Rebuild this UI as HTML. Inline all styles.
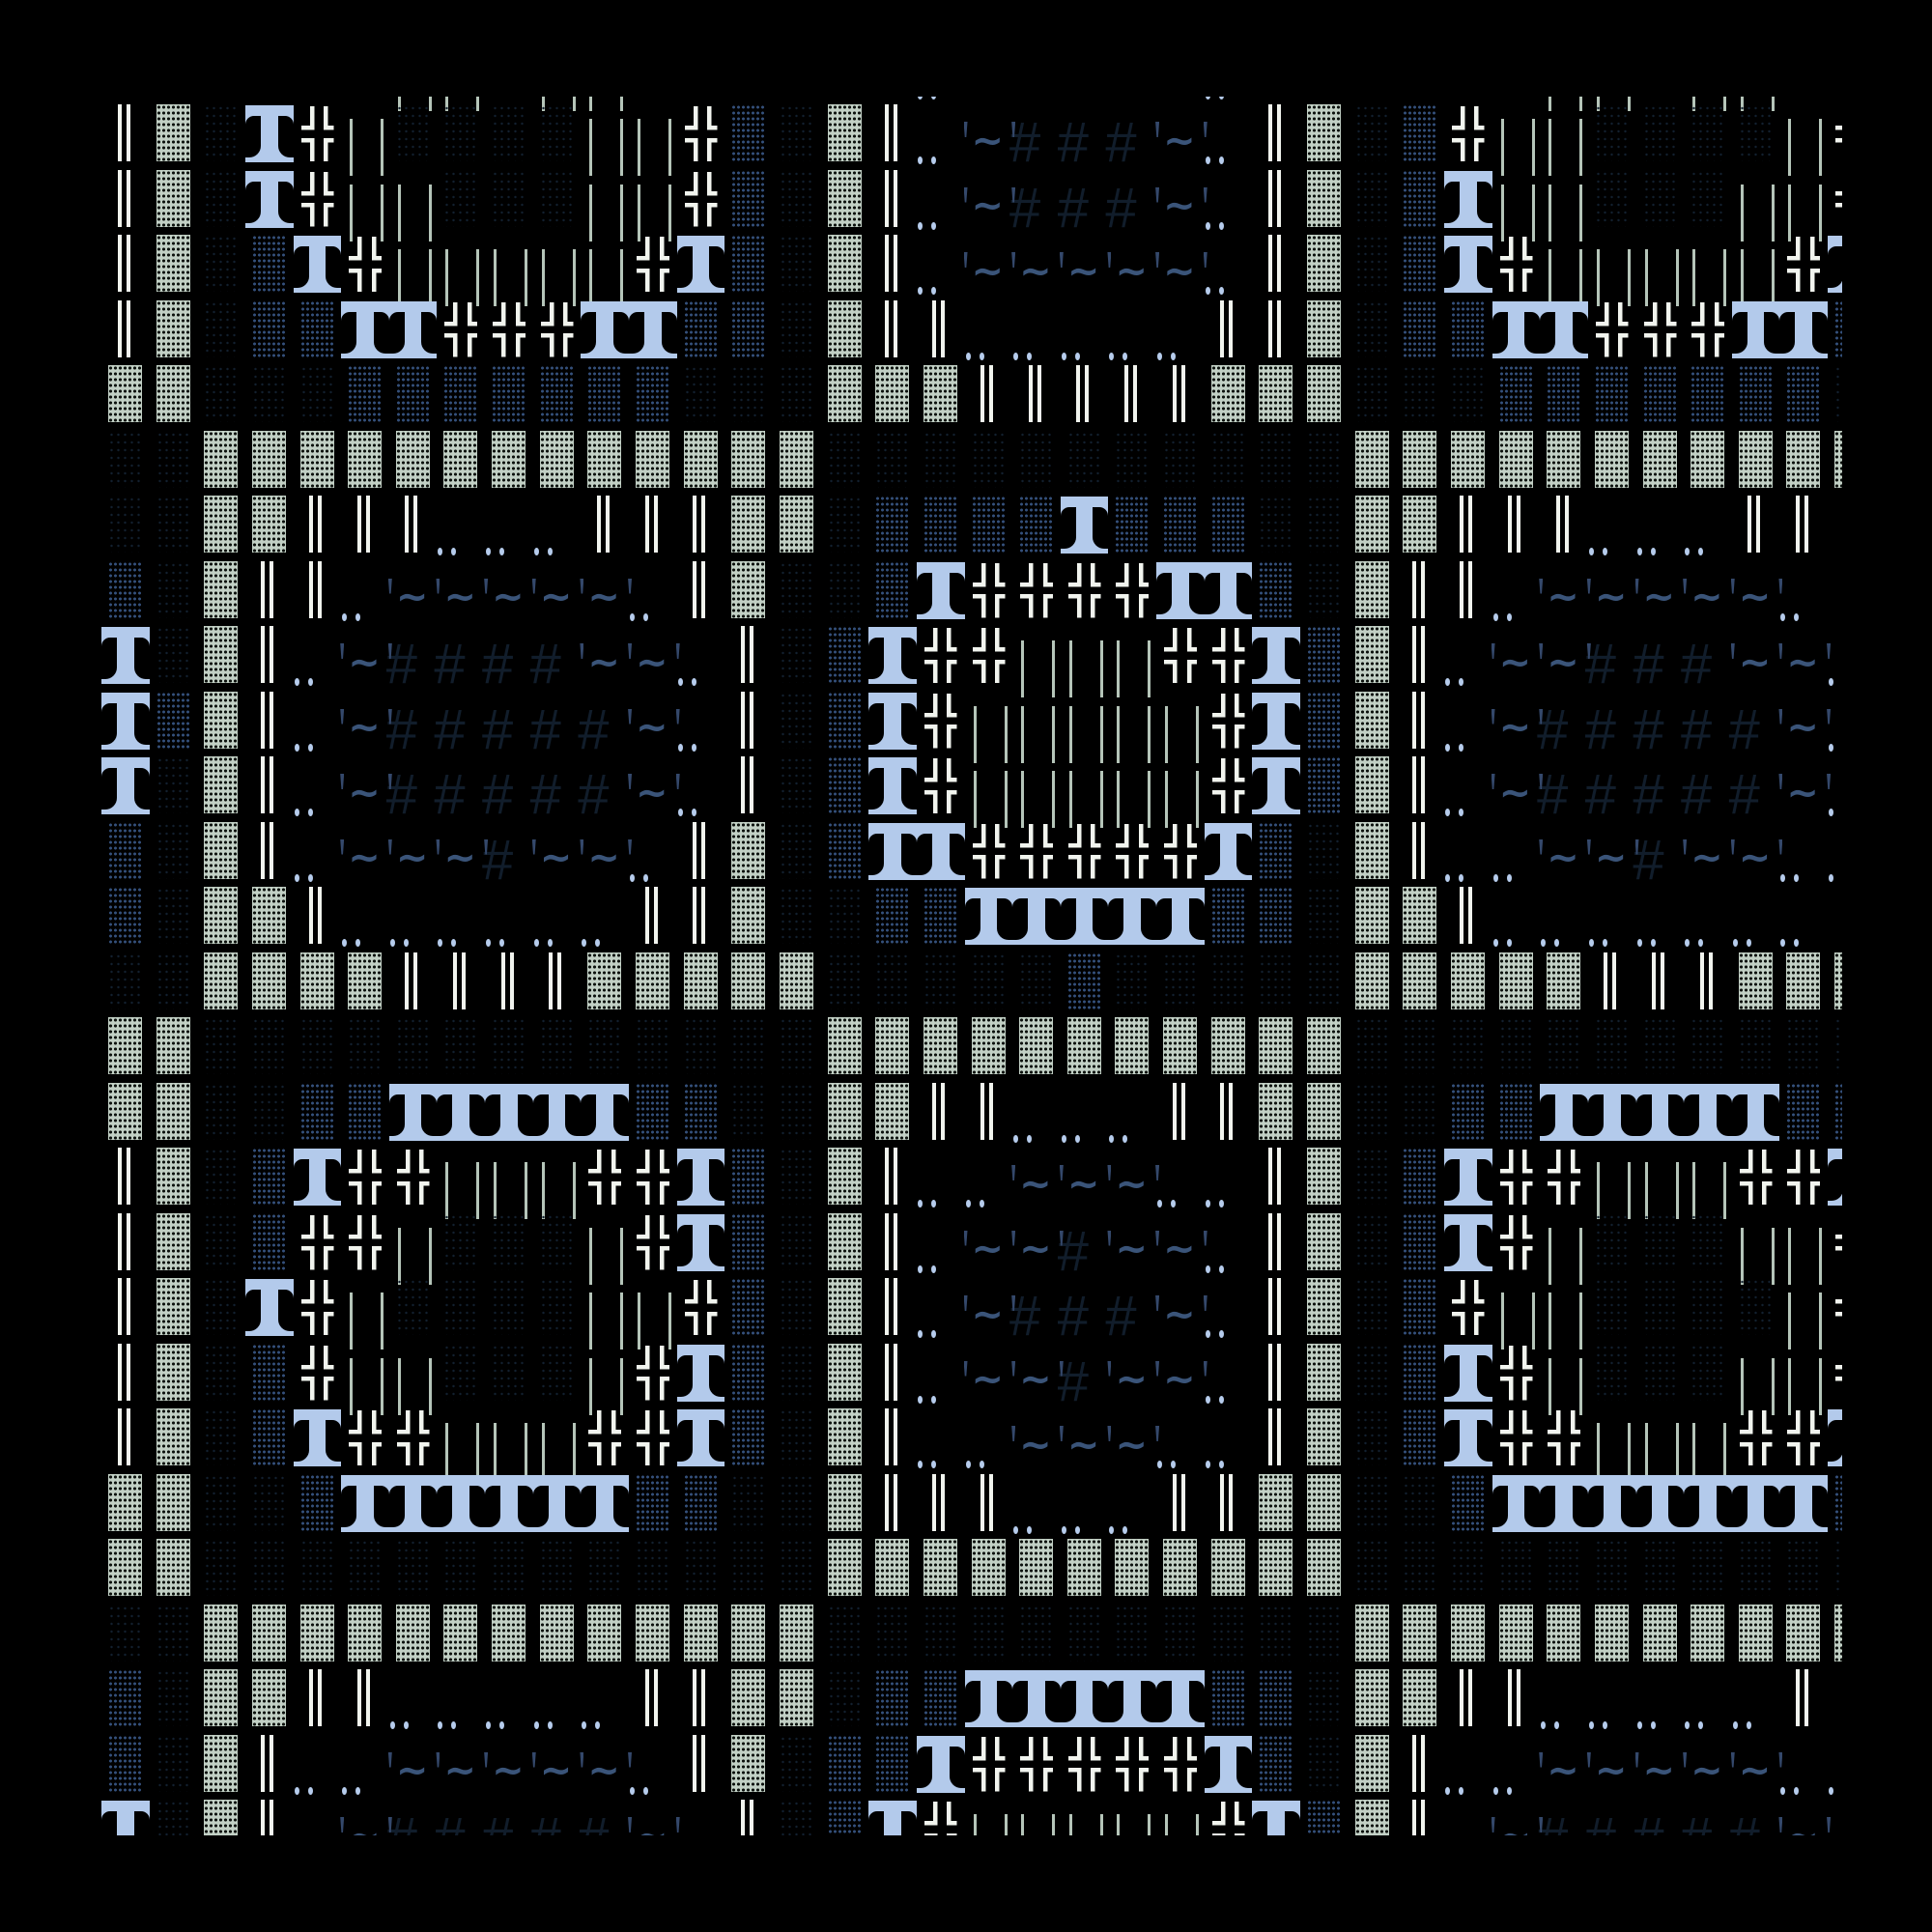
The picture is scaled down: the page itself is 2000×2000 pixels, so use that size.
<!DOCTYPE html>
<html><head><meta charset="utf-8"><style>
html,body{margin:0;padding:0;background:#000}
body{width:2000px;height:2000px;overflow:hidden;position:relative}
#c{position:absolute;left:100px;top:100px;width:1807px;height:1800px;overflow:hidden}
#g{position:absolute;left:5px;top:-63.5px;display:grid;grid-template-columns:repeat(37,49.65px);grid-auto-rows:67.5px}
#g i{position:relative;display:block;font-style:normal}
#g i::before,#g i::after{content:"";position:absolute}
#g .S::before{left:7px;top:4px;width:35px;height:59px;background:#c2d0c5 radial-gradient(circle,#0c110d 0 1.4px,transparent 1.8px) 0 0/5px 6px}
#g .d::before{left:7px;top:4px;width:35px;height:59px;background:radial-gradient(circle,#12202f 0 1px,transparent 1.4px) 0 0/7px 8px}
#g .b::before{left:7px;top:4px;width:35px;height:59px;background:radial-gradient(circle,#34507b 0 1.3px,transparent 1.7px) 0 0/5px 6px}
#g .D::before{left:16.5px;top:4px;width:5px;height:59px;border-left:4.5px solid #f1f4ee;border-right:4.5px solid #f1f4ee}
#g .X::before{left:8px;top:6px;width:34px;height:57px;
background-image:linear-gradient(#f1f4ee,#f1f4ee),linear-gradient(#f1f4ee,#f1f4ee),linear-gradient(#f1f4ee,#f1f4ee),linear-gradient(#f1f4ee,#f1f4ee),linear-gradient(#f1f4ee,#f1f4ee),linear-gradient(#f1f4ee,#f1f4ee),linear-gradient(#f1f4ee,#f1f4ee),linear-gradient(#f1f4ee,#f1f4ee);
background-repeat:no-repeat;
background-position:9px 0,0 20px,23.5px 0,23.5px 20px,9px 32.5px,0 32.5px,23.5px 32.5px,23.5px 32.5px;
background-size:4.5px 24.5px,13.5px 4.5px,4.5px 24.5px,10.5px 4.5px,4.5px 24.5px,13.5px 4.5px,4.5px 24.5px,10.5px 4.5px}
#g .T{background:linear-gradient(#b3caeb,#b3caeb) no-repeat 0 5px/100% 59px}
#g .T::before{left:0;top:16px;width:16px;height:43px;background:#000;border-radius:9px 0 12px 0}
#g .T::after{left:33.65px;top:16px;width:16px;height:43px;background:#000;border-radius:0 9px 0 12px}
#g .L::before{left:9px;top:19px;width:3px;height:59px;background:#b5c5b9;box-shadow:32px 0 0 #b5c5b9}
#g .o::before,#g .O::before{left:1px;top:58px;width:5px;height:8px;border-radius:50%;background:#b6ccec;box-shadow:14px 0 0 #b6ccec}
#g .t::before,#g .O::after,#g .H::after{left:-1px;top:22px;width:4px;height:16px;background:#34486b;clip-path:polygon(0 0,100% 0,70% 100%,30% 100%)}
#g .t::after{content:"~";left:7px;top:21.7px;font:bold 40px/40px "DejaVu Sans",sans-serif;color:#3a5479}
#g .h::before,#g .H::before{content:"#";left:-4px;top:15px;font:italic 58px/58px "Liberation Sans",sans-serif;color:#111d2b}
</style></head><body><div id="c"><div id="g">
<i></i><i></i><i></i><i></i><i></i><i></i><i class=L></i><i class=L></i><i></i><i class=L></i><i class=L></i><i></i><i></i><i></i><i></i><i></i><i></i><i class=o></i><i></i><i></i><i></i><i></i><i></i><i class=o></i><i></i><i></i><i></i><i></i><i></i><i></i><i class=L></i><i class=L></i><i></i><i class=L></i><i class=L></i><i></i><i></i>
<i class=D></i><i class=S></i><i class=d></i><i class=T></i><i class=X></i><i class=L></i><i class=d></i><i class=d></i><i class=d></i><i class=d></i><i class=L></i><i class=L></i><i class=X></i><i class=b></i><i class=d></i><i class=S></i><i class=D></i><i class=o></i><i class=t></i><i class=H></i><i class=h></i><i class=h></i><i class=t></i><i class=O></i><i class=D></i><i class=S></i><i class=d></i><i class=b></i><i class=X></i><i class=L></i><i class=L></i><i class=d></i><i class=d></i><i class=d></i><i class=d></i><i class=L></i><i class=X></i>
<i class=D></i><i class=S></i><i class=d></i><i class=T></i><i class=X></i><i class=L></i><i class=L></i><i class=d></i><i class=d></i><i class=d></i><i class=L></i><i class=L></i><i class=X></i><i class=b></i><i class=d></i><i class=S></i><i class=D></i><i class=o></i><i class=t></i><i class=H></i><i class=h></i><i class=h></i><i class=t></i><i class=O></i><i class=D></i><i class=S></i><i class=d></i><i class=b></i><i class=T></i><i class=L></i><i class=L></i><i class=d></i><i class=d></i><i class=d></i><i class=L></i><i class=L></i><i class=X></i>
<i class=D></i><i class=S></i><i class=d></i><i class=b></i><i class=T></i><i class=X></i><i class=L></i><i class=L></i><i class=L></i><i class=L></i><i class=L></i><i class=X></i><i class=T></i><i class=b></i><i class=d></i><i class=S></i><i class=D></i><i class=o></i><i class=t></i><i class=t></i><i class=t></i><i class=t></i><i class=t></i><i class=O></i><i class=D></i><i class=S></i><i class=d></i><i class=b></i><i class=T></i><i class=X></i><i class=L></i><i class=L></i><i class=L></i><i class=L></i><i class=L></i><i class=X></i><i class=T></i>
<i class=D></i><i class=S></i><i class=d></i><i class=b></i><i class=b></i><i class=T></i><i class=T></i><i class=X></i><i class=X></i><i class=X></i><i class=T></i><i class=T></i><i class=b></i><i class=b></i><i class=d></i><i class=S></i><i class=D></i><i class=D></i><i class=o></i><i class=o></i><i class=o></i><i class=o></i><i class=o></i><i class=D></i><i class=D></i><i class=S></i><i class=d></i><i class=b></i><i class=b></i><i class=T></i><i class=T></i><i class=X></i><i class=X></i><i class=X></i><i class=T></i><i class=T></i><i class=b></i>
<i class=S></i><i class=S></i><i class=d></i><i class=d></i><i class=d></i><i class=b></i><i class=b></i><i class=b></i><i class=b></i><i class=b></i><i class=b></i><i class=b></i><i class=d></i><i class=d></i><i class=d></i><i class=S></i><i class=S></i><i class=S></i><i class=D></i><i class=D></i><i class=D></i><i class=D></i><i class=D></i><i class=S></i><i class=S></i><i class=S></i><i class=d></i><i class=d></i><i class=d></i><i class=b></i><i class=b></i><i class=b></i><i class=b></i><i class=b></i><i class=b></i><i class=b></i><i class=d></i>
<i class=d></i><i class=d></i><i class=S></i><i class=S></i><i class=S></i><i class=S></i><i class=S></i><i class=S></i><i class=S></i><i class=S></i><i class=S></i><i class=S></i><i class=S></i><i class=S></i><i class=S></i><i class=d></i><i class=d></i><i class=d></i><i class=d></i><i class=d></i><i class=d></i><i class=d></i><i class=d></i><i class=d></i><i class=d></i><i class=d></i><i class=S></i><i class=S></i><i class=S></i><i class=S></i><i class=S></i><i class=S></i><i class=S></i><i class=S></i><i class=S></i><i class=S></i><i class=S></i>
<i class=d></i><i class=d></i><i class=S></i><i class=S></i><i class=D></i><i class=D></i><i class=D></i><i class=o></i><i class=o></i><i class=o></i><i class=D></i><i class=D></i><i class=D></i><i class=S></i><i class=S></i><i class=d></i><i class=b></i><i class=b></i><i class=b></i><i class=b></i><i class=T></i><i class=b></i><i class=b></i><i class=b></i><i class=d></i><i class=d></i><i class=S></i><i class=S></i><i class=D></i><i class=D></i><i class=D></i><i class=o></i><i class=o></i><i class=o></i><i class=D></i><i class=D></i><i></i>
<i class=b></i><i class=d></i><i class=S></i><i class=D></i><i class=D></i><i class=o></i><i class=t></i><i class=t></i><i class=t></i><i class=t></i><i class=t></i><i class=O></i><i class=D></i><i class=S></i><i class=d></i><i class=d></i><i class=b></i><i class=T></i><i class=X></i><i class=X></i><i class=X></i><i class=X></i><i class=T></i><i class=T></i><i class=b></i><i class=d></i><i class=S></i><i class=D></i><i class=D></i><i class=o></i><i class=t></i><i class=t></i><i class=t></i><i class=t></i><i class=t></i><i class=O></i><i></i>
<i class=T></i><i class=d></i><i class=S></i><i class=D></i><i class=o></i><i class=t></i><i class=H></i><i class=h></i><i class=h></i><i class=h></i><i class=t></i><i class=t></i><i class=O></i><i class=D></i><i class=d></i><i class=b></i><i class=T></i><i class=X></i><i class=X></i><i class=L></i><i class=L></i><i class=L></i><i class=X></i><i class=X></i><i class=T></i><i class=b></i><i class=S></i><i class=D></i><i class=o></i><i class=t></i><i class=t></i><i class=H></i><i class=h></i><i class=h></i><i class=t></i><i class=t></i><i class=O></i>
<i class=T></i><i class=b></i><i class=S></i><i class=D></i><i class=o></i><i class=t></i><i class=H></i><i class=h></i><i class=h></i><i class=h></i><i class=h></i><i class=t></i><i class=O></i><i class=D></i><i class=d></i><i class=b></i><i class=T></i><i class=X></i><i class=L></i><i class=L></i><i class=L></i><i class=L></i><i class=L></i><i class=X></i><i class=T></i><i class=b></i><i class=S></i><i class=D></i><i class=o></i><i class=t></i><i class=H></i><i class=h></i><i class=h></i><i class=h></i><i class=h></i><i class=t></i><i class=O></i>
<i class=T></i><i class=d></i><i class=S></i><i class=D></i><i class=o></i><i class=t></i><i class=H></i><i class=h></i><i class=h></i><i class=h></i><i class=h></i><i class=t></i><i class=O></i><i class=D></i><i class=d></i><i class=b></i><i class=T></i><i class=X></i><i class=L></i><i class=L></i><i class=L></i><i class=L></i><i class=L></i><i class=X></i><i class=T></i><i class=b></i><i class=S></i><i class=D></i><i class=o></i><i class=t></i><i class=H></i><i class=h></i><i class=h></i><i class=h></i><i class=h></i><i class=t></i><i class=O></i>
<i class=b></i><i class=d></i><i class=S></i><i class=D></i><i class=o></i><i class=t></i><i class=t></i><i class=t></i><i class=H></i><i class=t></i><i class=t></i><i class=O></i><i class=D></i><i class=S></i><i class=d></i><i class=b></i><i class=T></i><i class=T></i><i class=X></i><i class=X></i><i class=X></i><i class=X></i><i class=X></i><i class=T></i><i class=b></i><i class=d></i><i class=S></i><i class=D></i><i class=o></i><i class=o></i><i class=t></i><i class=t></i><i class=H></i><i class=t></i><i class=t></i><i class=O></i><i class=o></i>
<i class=b></i><i class=d></i><i class=S></i><i class=S></i><i class=D></i><i class=o></i><i class=o></i><i class=o></i><i class=o></i><i class=o></i><i class=o></i><i class=D></i><i class=D></i><i class=S></i><i class=d></i><i class=d></i><i class=b></i><i class=b></i><i class=T></i><i class=T></i><i class=T></i><i class=T></i><i class=T></i><i class=b></i><i class=b></i><i class=d></i><i class=S></i><i class=S></i><i class=D></i><i class=o></i><i class=o></i><i class=o></i><i class=o></i><i class=o></i><i class=o></i><i class=o></i><i></i>
<i class=d></i><i class=d></i><i class=S></i><i class=S></i><i class=S></i><i class=S></i><i class=D></i><i class=D></i><i class=D></i><i class=D></i><i class=S></i><i class=S></i><i class=S></i><i class=S></i><i class=S></i><i class=d></i><i class=d></i><i class=d></i><i class=d></i><i class=d></i><i class=b></i><i class=d></i><i class=d></i><i class=d></i><i class=d></i><i class=d></i><i class=S></i><i class=S></i><i class=S></i><i class=S></i><i class=S></i><i class=D></i><i class=D></i><i class=D></i><i class=S></i><i class=S></i><i class=S></i>
<i class=S></i><i class=S></i><i class=d></i><i class=d></i><i class=d></i><i class=d></i><i class=d></i><i class=d></i><i class=d></i><i class=d></i><i class=d></i><i class=d></i><i class=d></i><i class=d></i><i class=d></i><i class=S></i><i class=S></i><i class=S></i><i class=S></i><i class=S></i><i class=S></i><i class=S></i><i class=S></i><i class=S></i><i class=S></i><i class=S></i><i class=d></i><i class=d></i><i class=d></i><i class=d></i><i class=d></i><i class=d></i><i class=d></i><i class=d></i><i class=d></i><i class=d></i><i class=d></i>
<i class=S></i><i class=S></i><i class=d></i><i class=d></i><i class=b></i><i class=b></i><i class=T></i><i class=T></i><i class=T></i><i class=T></i><i class=T></i><i class=b></i><i class=b></i><i class=d></i><i class=d></i><i class=S></i><i class=S></i><i class=D></i><i class=D></i><i class=o></i><i class=o></i><i class=o></i><i class=D></i><i class=D></i><i class=S></i><i class=S></i><i class=d></i><i class=d></i><i class=b></i><i class=b></i><i class=T></i><i class=T></i><i class=T></i><i class=T></i><i class=T></i><i class=b></i><i class=b></i>
<i class=D></i><i class=S></i><i class=d></i><i class=b></i><i class=T></i><i class=X></i><i class=X></i><i class=L></i><i class=L></i><i class=L></i><i class=X></i><i class=X></i><i class=T></i><i class=b></i><i class=d></i><i class=S></i><i class=D></i><i class=o></i><i class=o></i><i class=t></i><i class=t></i><i class=t></i><i class=O></i><i class=o></i><i class=D></i><i class=S></i><i class=d></i><i class=b></i><i class=T></i><i class=X></i><i class=X></i><i class=L></i><i class=L></i><i class=L></i><i class=X></i><i class=X></i><i class=T></i>
<i class=D></i><i class=S></i><i class=d></i><i class=b></i><i class=X></i><i class=X></i><i class=L></i><i class=d></i><i class=d></i><i class=d></i><i class=L></i><i class=X></i><i class=T></i><i class=b></i><i class=d></i><i class=S></i><i class=D></i><i class=o></i><i class=t></i><i class=t></i><i class=H></i><i class=t></i><i class=t></i><i class=O></i><i class=D></i><i class=S></i><i class=d></i><i class=b></i><i class=T></i><i class=X></i><i class=L></i><i class=d></i><i class=d></i><i class=d></i><i class=L></i><i class=L></i><i class=X></i>
<i class=D></i><i class=S></i><i class=d></i><i class=T></i><i class=X></i><i class=L></i><i class=d></i><i class=d></i><i class=d></i><i class=d></i><i class=L></i><i class=L></i><i class=X></i><i class=b></i><i class=d></i><i class=S></i><i class=D></i><i class=o></i><i class=t></i><i class=H></i><i class=h></i><i class=h></i><i class=t></i><i class=O></i><i class=D></i><i class=S></i><i class=d></i><i class=b></i><i class=X></i><i class=L></i><i class=L></i><i class=d></i><i class=d></i><i class=d></i><i class=d></i><i class=L></i><i class=X></i>
<i class=D></i><i class=S></i><i class=d></i><i class=b></i><i class=X></i><i class=L></i><i class=L></i><i class=d></i><i class=d></i><i class=d></i><i class=L></i><i class=X></i><i class=T></i><i class=b></i><i class=d></i><i class=S></i><i class=D></i><i class=o></i><i class=t></i><i class=t></i><i class=H></i><i class=t></i><i class=t></i><i class=O></i><i class=D></i><i class=S></i><i class=d></i><i class=b></i><i class=T></i><i class=X></i><i class=L></i><i class=d></i><i class=d></i><i class=d></i><i class=L></i><i class=L></i><i class=X></i>
<i class=D></i><i class=S></i><i class=d></i><i class=b></i><i class=T></i><i class=X></i><i class=X></i><i class=L></i><i class=L></i><i class=L></i><i class=X></i><i class=X></i><i class=T></i><i class=b></i><i class=d></i><i class=S></i><i class=D></i><i class=o></i><i class=o></i><i class=t></i><i class=t></i><i class=t></i><i class=O></i><i class=o></i><i class=D></i><i class=S></i><i class=d></i><i class=b></i><i class=T></i><i class=X></i><i class=X></i><i class=L></i><i class=L></i><i class=L></i><i class=X></i><i class=X></i><i class=T></i>
<i class=S></i><i class=S></i><i class=d></i><i class=d></i><i class=b></i><i class=T></i><i class=T></i><i class=T></i><i class=T></i><i class=T></i><i class=T></i><i class=b></i><i class=b></i><i class=d></i><i class=d></i><i class=S></i><i class=D></i><i class=D></i><i class=D></i><i class=o></i><i class=o></i><i class=o></i><i class=D></i><i class=D></i><i class=S></i><i class=S></i><i class=d></i><i class=d></i><i class=b></i><i class=T></i><i class=T></i><i class=T></i><i class=T></i><i class=T></i><i class=T></i><i class=T></i><i class=b></i>
<i class=S></i><i class=S></i><i class=d></i><i class=d></i><i class=d></i><i class=d></i><i class=d></i><i class=d></i><i class=d></i><i class=d></i><i class=d></i><i class=d></i><i class=d></i><i class=d></i><i class=d></i><i class=S></i><i class=S></i><i class=S></i><i class=S></i><i class=S></i><i class=S></i><i class=S></i><i class=S></i><i class=S></i><i class=S></i><i class=S></i><i class=d></i><i class=d></i><i class=d></i><i class=d></i><i class=d></i><i class=d></i><i class=d></i><i class=d></i><i class=d></i><i class=d></i><i class=d></i>
<i class=d></i><i class=d></i><i class=S></i><i class=S></i><i class=S></i><i class=S></i><i class=S></i><i class=S></i><i class=S></i><i class=S></i><i class=S></i><i class=S></i><i class=S></i><i class=S></i><i class=S></i><i class=d></i><i class=d></i><i class=d></i><i class=d></i><i class=d></i><i class=d></i><i class=d></i><i class=d></i><i class=d></i><i class=d></i><i class=d></i><i class=S></i><i class=S></i><i class=S></i><i class=S></i><i class=S></i><i class=S></i><i class=S></i><i class=S></i><i class=S></i><i class=S></i><i class=S></i>
<i class=b></i><i class=d></i><i class=S></i><i class=S></i><i class=D></i><i class=D></i><i class=o></i><i class=o></i><i class=o></i><i class=o></i><i class=o></i><i class=D></i><i class=D></i><i class=S></i><i class=S></i><i class=d></i><i class=b></i><i class=b></i><i class=T></i><i class=T></i><i class=T></i><i class=T></i><i class=T></i><i class=b></i><i class=b></i><i class=d></i><i class=S></i><i class=S></i><i class=D></i><i class=D></i><i class=o></i><i class=o></i><i class=o></i><i class=o></i><i class=o></i><i class=D></i><i></i>
<i class=b></i><i class=d></i><i class=S></i><i class=D></i><i class=o></i><i class=o></i><i class=t></i><i class=t></i><i class=t></i><i class=t></i><i class=t></i><i class=O></i><i class=D></i><i class=S></i><i class=d></i><i class=b></i><i class=b></i><i class=T></i><i class=X></i><i class=X></i><i class=X></i><i class=X></i><i class=X></i><i class=T></i><i class=b></i><i class=d></i><i class=S></i><i class=D></i><i class=o></i><i class=o></i><i class=t></i><i class=t></i><i class=t></i><i class=t></i><i class=t></i><i class=O></i><i class=o></i>
<i class=T></i><i class=d></i><i class=S></i><i class=D></i><i class=o></i><i class=t></i><i class=H></i><i class=h></i><i class=h></i><i class=h></i><i class=h></i><i class=t></i><i class=O></i><i class=D></i><i class=d></i><i class=b></i><i class=T></i><i class=X></i><i class=L></i><i class=L></i><i class=L></i><i class=L></i><i class=L></i><i class=X></i><i class=T></i><i class=b></i><i class=S></i><i class=D></i><i class=o></i><i class=t></i><i class=H></i><i class=h></i><i class=h></i><i class=h></i><i class=h></i><i class=t></i><i class=O></i>
</div></div></body></html>
